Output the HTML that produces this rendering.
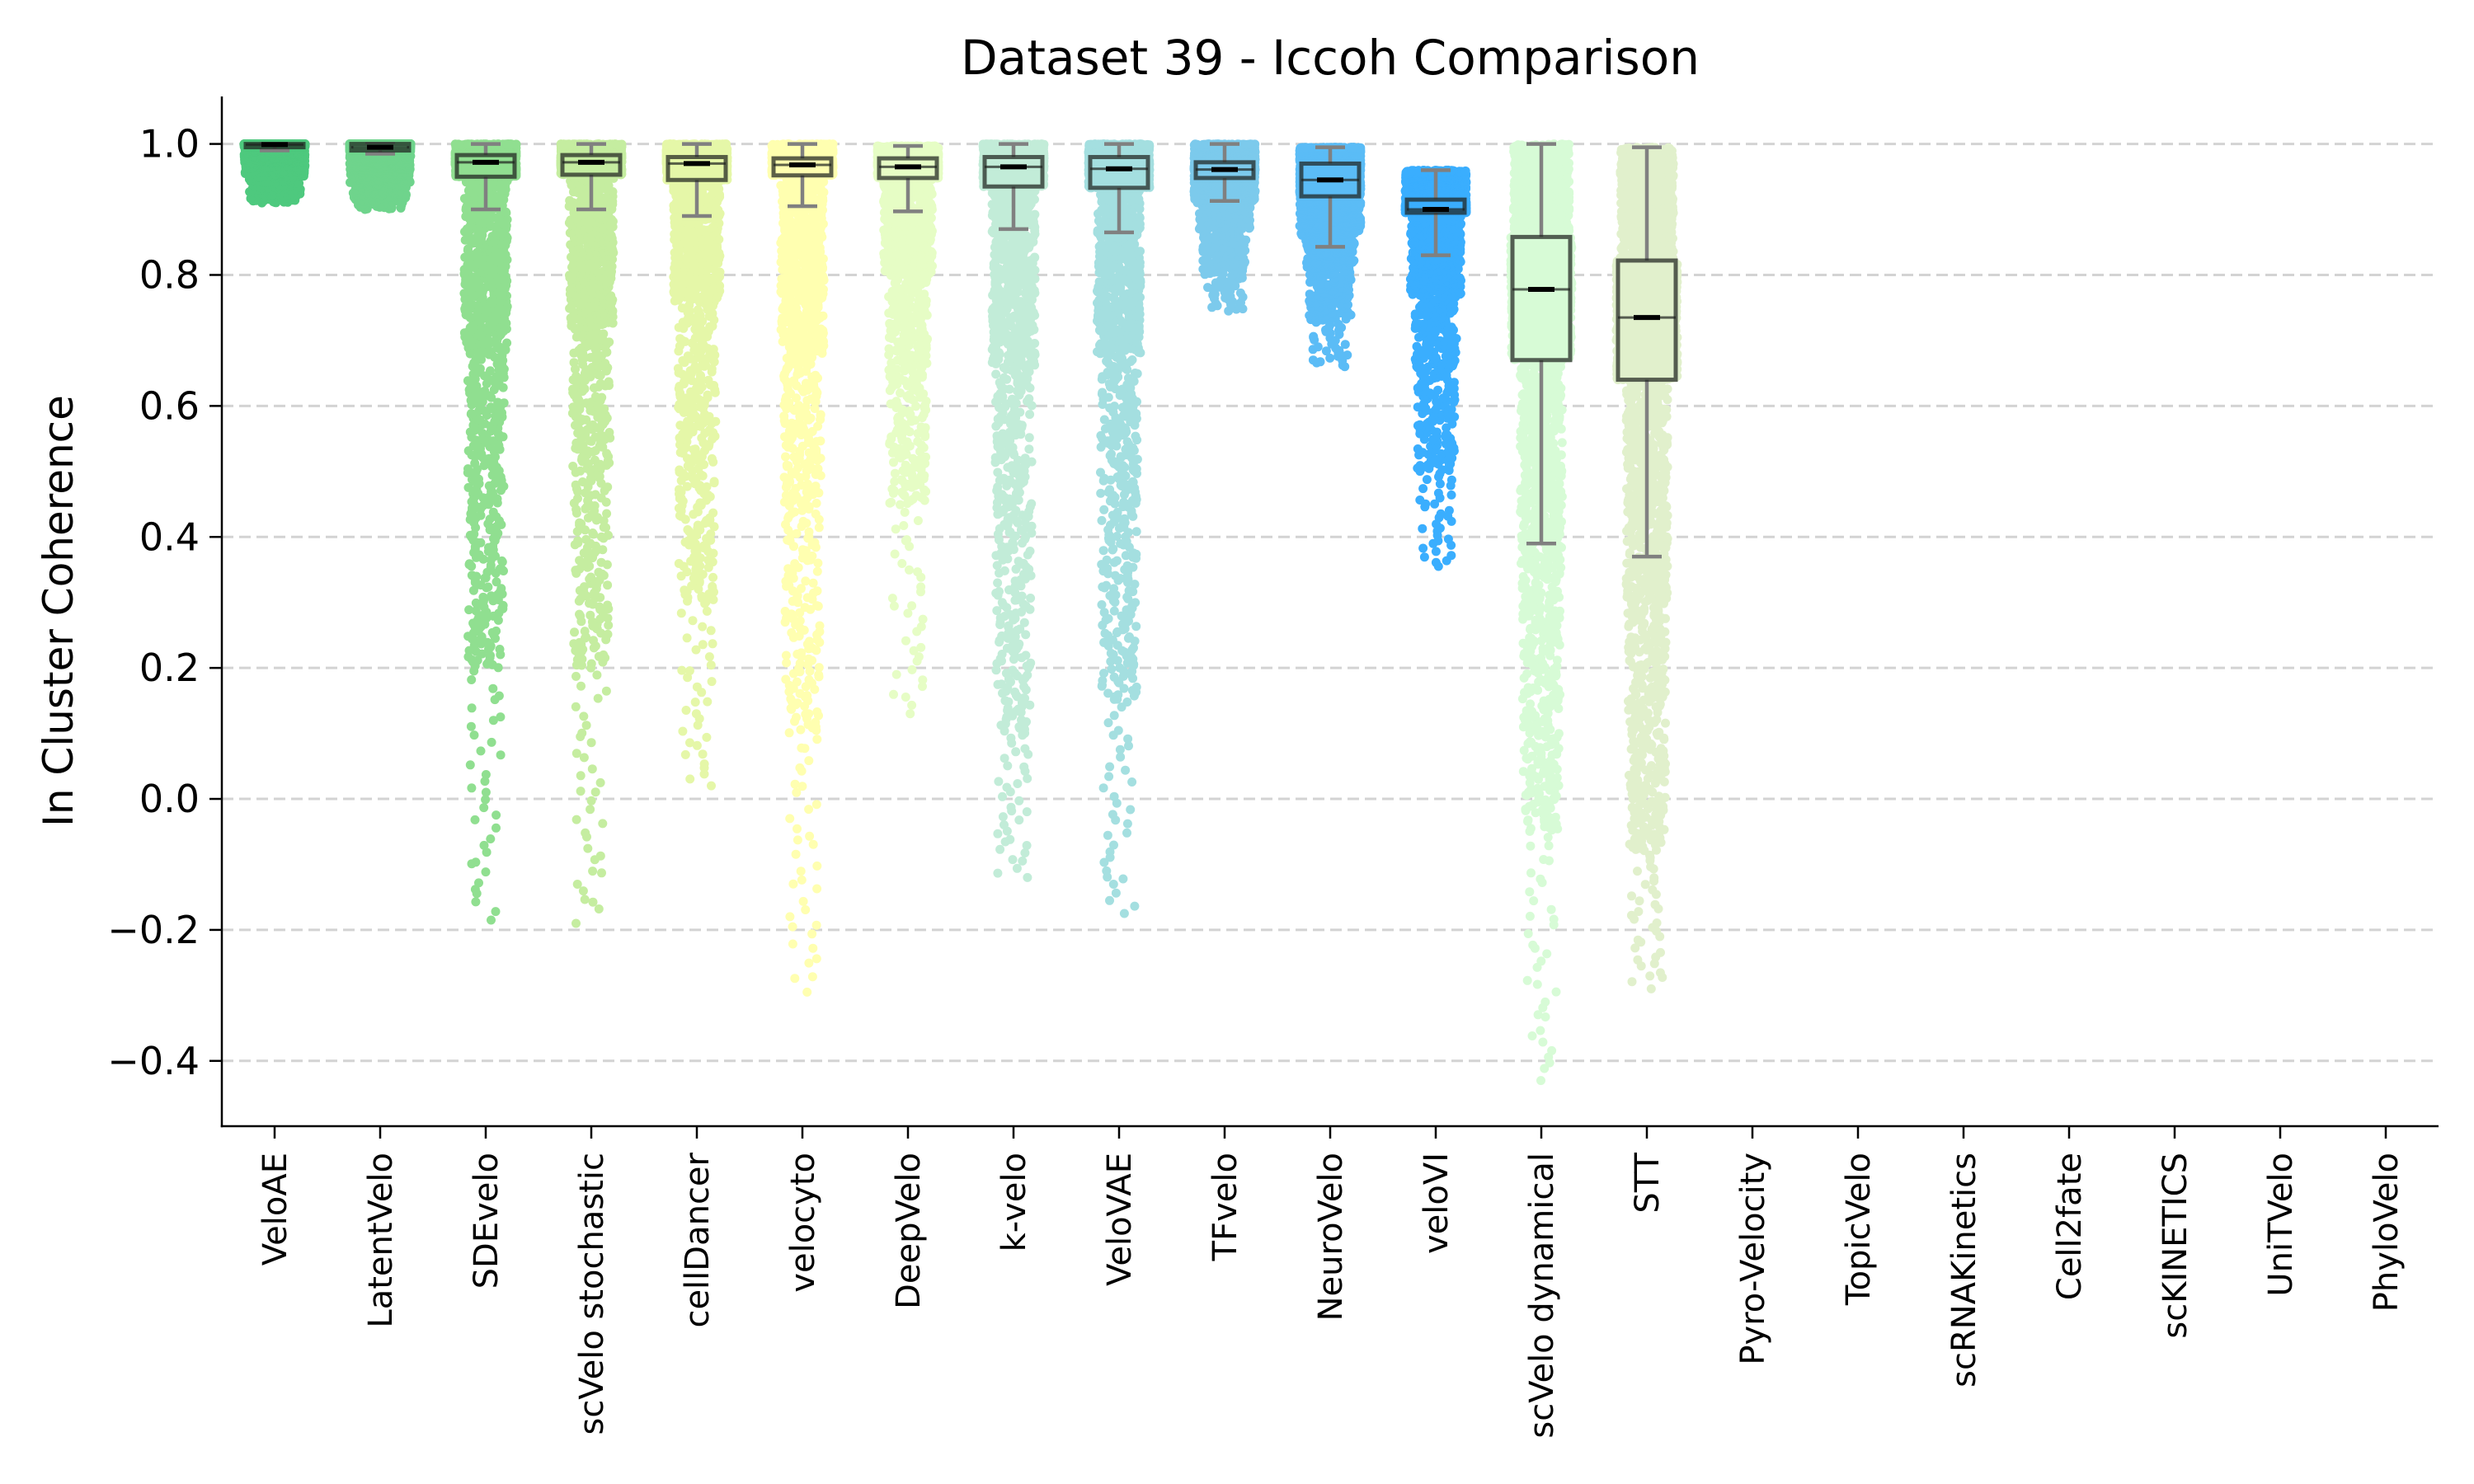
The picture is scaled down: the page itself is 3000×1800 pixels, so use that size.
<!DOCTYPE html>
<html><head><meta charset="utf-8"><title>Dataset 39 - Iccoh Comparison</title>
<style>
html,body{margin:0;padding:0;background:#fff;}
svg{display:block;font-family:"DejaVu Sans","Liberation Sans",sans-serif;}
</style></head>
<body>
<svg id="chart" width="3000" height="1800" viewBox="0 0 3000 1800" xmlns="http://www.w3.org/2000/svg">
  <rect width="3000" height="1800" fill="#fff"/>
  <g id="grid"></g>
  <g id="points"></g>
  <g id="boxes"></g>
  <g id="axes"></g>
  <text x="1613" y="90" font-size="58" text-anchor="middle" fill="#000">Dataset 39 - Iccoh Comparison</text>
  <text x="0" y="0" font-size="50" text-anchor="middle" fill="#000" transform="translate(88,741) rotate(-90)">In Cluster Coherence</text>
</svg>
<script>
const categories = ["VeloAE","LatentVelo","SDEvelo","scVelo stochastic","cellDancer","velocyto","DeepVelo","k-velo","VeloVAE","TFvelo","NeuroVelo","veloVI","scVelo dynamical","STT","Pyro-Velocity","TopicVelo","scRNAKinetics","Cell2fate","scKINETICS","UniTVelo","PhyloVelo"];
const colors = ["#4ec97e","#6fd48c","#90df90","#c5eda0","#e5f7a8","#ffffb0","#e6fdc5","#c2ecd8","#a4dfe0","#7ccaec","#5bbcf6","#3aaefe","#d7fbd6","#e1f0cc"];
// box stats
const whiskerLow = [0.99,0.985,0.90,0.90,0.89,0.905,0.897,0.87,0.865,0.913,0.843,0.83,0.39,0.37];
const q1 =        [0.995,0.99,0.95,0.953,0.945,0.952,0.948,0.935,0.933,0.948,0.92,0.895,0.67,0.64];
const medians =   [0.999,0.995,0.972,0.972,0.97,0.968,0.965,0.965,0.962,0.961,0.945,0.90,0.778,0.735];
const q3 =        [1.0,1.0,0.983,0.983,0.98,0.978,0.978,0.98,0.98,0.972,0.97,0.915,0.858,0.822];
const whiskerHigh=[1.0,1.0,1.0,1.0,1.0,1.0,0.997,1.0,1.0,1.0,0.995,0.96,1.0,0.995];
// point distribution quantiles
const pMin = [0.91,0.90,-0.185,-0.19,0.02,-0.295,0.13,-0.12,-0.175,0.745,0.66,0.355,-0.43,-0.29];
const p01 =  [0.92,0.915,0.2,0.2,0.3,0.1,0.45,0.1,0.15,0.8,0.73,0.5,-0.05,-0.08];
const p05 =  [0.95,0.94,0.45,0.5,0.55,0.45,0.65,0.4,0.45,0.87,0.81,0.66,0.15,0.1];
const p10 =  [0.97,0.96,0.68,0.72,0.76,0.68,0.8,0.66,0.68,0.91,0.86,0.77,0.35,0.3];
const pMax = [1.0,1.0,1.0,1.0,1.0,1.0,0.997,1.0,1.0,1.0,0.995,0.96,1.0,0.995];
const yTicks = [-0.4,-0.2,0.0,0.2,0.4,0.6,0.8,1.0];
const yTickLabels = ["\u22120.4","\u22120.2","0.0","0.2","0.4","0.6","0.8","1.0"];

const NS="http://www.w3.org/2000/svg";
const L=269,R=2957,T=117,B=1366;
const yMin=-0.4997,yMax=1.0725;
function y(v){return B-(v-yMin)/(yMax-yMin)*(B-T);}
function x(i){return L+(i+0.5)*(R-L)/categories.length;}
function mk(tag,attrs,parent){const e=document.createElementNS(NS,tag);for(const k in attrs)e.setAttribute(k,attrs[k]);parent.appendChild(e);return e;}
function hash(n){const s=Math.sin(n*12.9898+78.233)*43758.5453;return s-Math.floor(s);}

const grid=document.getElementById('grid'),axes=document.getElementById('axes'),pts=document.getElementById('points'),boxes=document.getElementById('boxes');
yTicks.forEach((t,i)=>{
  const g=mk('line',{x1:L,x2:R,y1:y(t),y2:y(t),stroke:'#d3d3d3','stroke-width':3,'stroke-dasharray':'14,7'},grid);
  
  
  const tk=mk('line',{x1:L-15,x2:L,y1:y(t),y2:y(t),stroke:'#000','stroke-width':2.5},axes);
  
  
  const tx=mk('text',{x:L-27,y:y(t)+16,'font-size':46,'text-anchor':'end',fill:'#000'},axes);
  tx.textContent=yTickLabels[i];
  
  
});
categories.forEach((c,i)=>{
  const tk=mk('line',{x1:x(i),x2:x(i),y1:B,y2:B+15,stroke:'#000','stroke-width':2.5},axes);
  
  
  const tx=mk('text',{x:0,y:0,'font-size':40,'text-anchor':'end',fill:'#000',transform:`translate(${x(i)+14},${B+32}) rotate(-90)`},axes);
  tx.textContent=c;
  
  
});
const sp1=mk('line',{x1:L,x2:L,y1:T,y2:B+1.25,stroke:'#000','stroke-width':2.5},axes);


const sp2=mk('line',{x1:L-1.25,x2:R,y1:B,y2:B,stroke:'#000','stroke-width':2.5},axes);



// points: inverse CDF through the quantile arrays, hashed jitter tapered by density
const N=3500;
colors.forEach((col,i)=>{
  const P=[0,0.01,0.05,0.10,0.25,0.5,0.75,1];
  const V=[pMin[i],p01[i],p05[i],p10[i],q1[i],medians[i],q3[i],pMax[i]];
  const g=mk('g',{fill:col},pts);
  
  
  for(let k=0;k<N;k++){
    let p=(k+hash(k*7.1+i*131.7))/N;
    if(k===0)p=0; if(k===N-1)p=1;
    let j=0;while(j<P.length-2&&p>P[j+1])j++;
    const v=V[j]+(V[j+1]-V[j])*(p-P[j])/(P[j+1]-P[j]);
    const dens=(P[j+1]-P[j])/Math.max(V[j+1]-V[j],1e-4);
    const f=0.45+0.55*Math.min(1,Math.sqrt(dens/2.5));
    const jit=(hash(k*3.3+i*57.9+0.5)-0.5)*2*37*f;
    mk('circle',{cx:(x(i)+jit).toFixed(1),cy:y(v).toFixed(1),r:5.5},g);
  }
});

// boxes
colors.forEach((col,i)=>{
  const g=mk('g',{},boxes);
  
  
  const cx=x(i),hw=35,cw=18;
  mk('line',{x1:cx,x2:cx,y1:y(whiskerLow[i]),y2:y(q1[i]),stroke:'#808080','stroke-width':4.5},g);
  mk('line',{x1:cx,x2:cx,y1:y(q3[i]),y2:y(whiskerHigh[i]),stroke:'#808080','stroke-width':4.5},g);
  mk('line',{x1:cx-cw,x2:cx+cw,y1:y(whiskerLow[i]),y2:y(whiskerLow[i]),stroke:'#808080','stroke-width':4.5},g);
  mk('line',{x1:cx-cw,x2:cx+cw,y1:y(whiskerHigh[i]),y2:y(whiskerHigh[i]),stroke:'#808080','stroke-width':4.5},g);
  const top=y(q3[i]),bot=y(q1[i]);
  mk('rect',{x:cx-hw,y:top,width:2*hw,height:Math.max(bot-top,1),fill:col,stroke:'rgba(30,35,30,0.72)','stroke-width':5},g);
  mk('line',{x1:cx-hw,x2:cx+hw,y1:y(medians[i]),y2:y(medians[i]),stroke:'rgba(30,35,30,0.72)','stroke-width':3},g);
  mk('line',{x1:cx-16,x2:cx+16,y1:y(medians[i]),y2:y(medians[i]),stroke:'#000','stroke-width':6},g);
});
</script>
</body></html>
